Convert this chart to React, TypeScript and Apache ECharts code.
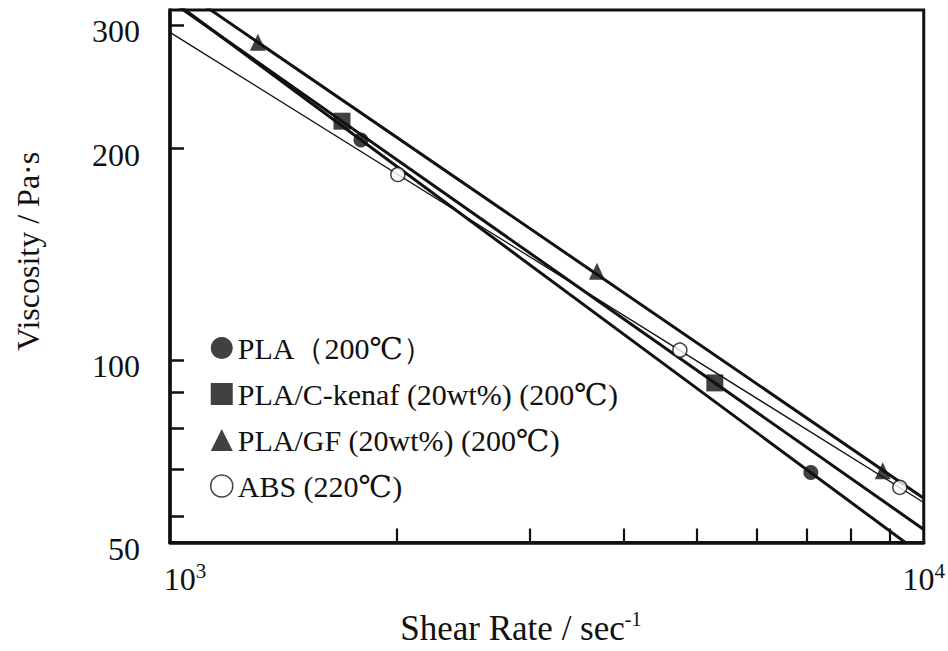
import React, { useEffect, useRef } from "react";
import * as echarts from "echarts";

// ---- data (shear rate in 1/s, viscosity in Pa·s) ----
const seriesNames = [
  "PLA（200℃）",
  "PLA/C-kenaf (20wt%) (200℃)",
  "PLA/GF (20wt%) (200℃)",
  "ABS (220℃)",
];

const plaX = [1792, 7083];
const plaY = [205.7, 69.2];
const kenafX = [1691, 5282];
const kenafY = [218.8, 92.8];
const gfX = [1308, 3685, 8822];
const gfY = [283.4, 133.8, 69.6];
const absX = [2006, 4747, 9294];
const absY = [183.7, 103.3, 65.9];

// fitted straight lines (log-log), values read at the two ends of the x axis
const fitX = [1000, 10000];
const fitPla = [326.8, 52.6];
const fitKenaf = [324.9, 57.4];
const fitGf = [345.2, 63.6];
const fitAbs = [292.7, 62.7];

// axes
const xRange = [1000, 10000];
const yRange = [55, 315];
const xTickValues = [2000, 3000, 4000, 5000, 6000, 7000, 8000, 9000];
const xLabelValues = [1000, 10000];
const xLabelExponents = ["3", "4"];
const yTickValues = [60, 70, 80, 90, 100, 200, 300];
const yLabelValues = [55, 100, 200, 300];
const yLabelTexts = ["50", "100", "200", "300"];

const FONT = "Liberation Serif, DejaVu Serif, serif";
const INK = "#111";

const lg = (v: number) => Math.log10(v);
const pts = (xs: number[], ys: number[]) => xs.map((x, i) => [lg(x), lg(ys[i])]);
const findIdx = (arr: number[], v: number) => {
  let best = 0;
  let d = Infinity;
  arr.forEach((a, i) => {
    const dd = Math.abs(lg(a) - v);
    if (dd < d) {
      d = dd;
      best = i;
    }
  });
  return best;
};

export default function App() {
  const ref = useRef<HTMLDivElement>(null);

  useEffect(() => {
    if (!ref.current) return;
    const chart = echarts.init(ref.current, undefined, { renderer: "svg" });

    const fitLine = (name: string, ys: number[], width: number) => ({
      name,
      type: "line",
      data: pts(fitX, ys),
      symbol: "none",
      showSymbol: false,
      silent: true,
      clip: true,
      z: 2,
      lineStyle: { color: INK, width },
    });

    const option: any = {
      animation: false,
      backgroundColor: "#fff",
      textStyle: { fontFamily: FONT, color: INK },
      grid: {
        left: 170,
        right: 24,
        top: 10,
        bottom: 100,
        show: true,
        borderColor: INK,
        borderWidth: 3,
        backgroundColor: "transparent",
      },
      legend: {
        orient: "vertical",
        left: 210,
        top: 333,
        padding: 0,
        itemWidth: 22,
        itemHeight: 22,
        itemGap: 16,
        selectedMode: false,
        textStyle: { fontFamily: FONT, fontSize: 30, lineHeight: 30, color: INK },
        data: [
          { name: seriesNames[0], icon: "circle", itemStyle: { color: INK } },
          { name: seriesNames[1], icon: "rect", itemStyle: { color: INK } },
          { name: seriesNames[2], icon: "triangle", itemStyle: { color: INK } },
          {
            name: seriesNames[3],
            icon: "circle",
            itemStyle: { color: "#fff", borderColor: INK, borderWidth: 1.5 },
          },
        ],
      },
      xAxis: {
        type: "value",
        min: lg(xRange[0]),
        max: lg(xRange[1]),
        name: "{t|Shear Rate / sec}{s|-1}",
        nameLocation: "middle",
        nameGap: 66,
        nameTextStyle: {
          padding: [0, 52, 0, 0],
          rich: {
            t: { fontFamily: FONT, fontSize: 35, lineHeight: 40, color: INK },
            s: { fontFamily: FONT, fontSize: 20, lineHeight: 20, color: INK, verticalAlign: "top" },
          },
        },
        axisLine: { show: true, lineStyle: { color: INK, width: 3.5 } },
        axisTick: {
          show: true,
          inside: true,
          length: 14,
          lineStyle: { color: INK, width: 2.2 },
          customValues: xTickValues.map(lg),
        },
        axisLabel: {
          show: true,
          margin: 18,
          customValues: xLabelValues.map(lg),
          formatter: (v: number) => {
            const i = findIdx(xLabelValues, v);
            return i === 0
              ? `{b0|10}{s|${xLabelExponents[i]}}`
              : `{b|10}{s|${xLabelExponents[i]}}`;
          },
          rich: {
            b0: { fontFamily: FONT, fontSize: 32, lineHeight: 36, color: INK, padding: [0, 0, 0, 30] },
            b: { fontFamily: FONT, fontSize: 32, lineHeight: 36, color: INK },
            s: { fontFamily: FONT, fontSize: 21, lineHeight: 21, color: INK, verticalAlign: "top" },
          },
        },
        splitLine: { show: false },
      },
      yAxis: {
        type: "value",
        min: lg(yRange[0]),
        max: lg(yRange[1]),
        name: "Viscosity / Pa·s",
        nameLocation: "middle",
        nameRotate: 90,
        nameGap: 124,
        nameTextStyle: {
          fontFamily: FONT,
          fontSize: 32,
          lineHeight: 36,
          color: INK,
          padding: [0, 0, 0, 50],
        },
        axisLine: { show: true, lineStyle: { color: INK, width: 3.5 } },
        axisTick: {
          show: true,
          inside: true,
          length: 14,
          lineStyle: { color: INK, width: 2.5 },
          customValues: yTickValues.map(lg),
        },
        axisLabel: {
          show: true,
          margin: 30,
          customValues: yLabelValues.map(lg),
          formatter: (v: number) => `{n|${yLabelTexts[findIdx(yLabelValues, v)]}}`,
          rich: {
            n: { fontFamily: FONT, fontSize: 32, lineHeight: 34, color: INK, padding: [12, 0, 0, 0] },
          },
        },
        splitLine: { show: false },
      },
      series: [
        fitLine("PLA fit", fitPla, 3),
        fitLine("PLA/C-kenaf fit", fitKenaf, 3),
        fitLine("PLA/GF fit", fitGf, 3),
        fitLine("ABS fit", fitAbs, 1.3),
        {
          name: seriesNames[0],
          type: "scatter",
          data: pts(plaX, plaY),
          symbol: "circle",
          symbolSize: 15,
          itemStyle: { color: INK },
          z: 3,
        },
        {
          name: seriesNames[1],
          type: "scatter",
          data: pts(kenafX, kenafY),
          symbol: "rect",
          symbolSize: 17,
          itemStyle: { color: INK },
          z: 3,
        },
        {
          name: seriesNames[2],
          type: "scatter",
          data: pts(gfX, gfY),
          symbol: "triangle",
          symbolSize: [16, 17],
          itemStyle: { color: INK },
          z: 3,
        },
        {
          name: seriesNames[3],
          type: "scatter",
          data: pts(absX, absY),
          symbol: "circle",
          symbolSize: 14,
          itemStyle: { color: "#fff", borderColor: INK, borderWidth: 1.5 },
          z: 3,
        },
      ],
    };

    chart.setOption(option);
    return () => chart.dispose();
  }, []);

  return (
    <div
      ref={ref}
      style={{ position: "fixed", left: 0, top: 0, width: 948, height: 651, background: "#fff" }}
    />
  );
}
